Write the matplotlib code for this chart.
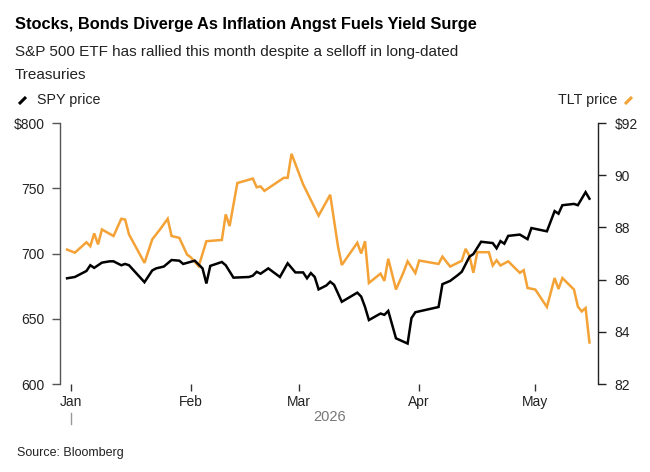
import pandas as pd
import matplotlib.pyplot as plt
import matplotlib.dates as mdates
from matplotlib.lines import Line2D

plt.rcParams['font.family'] = ['Liberation Sans', 'DejaVu Sans']

# SPY price (left axis)
spy_dates = [
    "2025-12-31", "2026-01-02", "2026-01-05", "2026-01-06", "2026-01-07", "2026-01-09",
    "2026-01-11", "2026-01-12", "2026-01-14", "2026-01-15", "2026-01-16", "2026-01-20",
    "2026-01-22", "2026-01-23", "2026-01-25", "2026-01-27", "2026-01-29", "2026-01-30",
    "2026-02-02", "2026-02-04", "2026-02-05", "2026-02-06", "2026-02-09", "2026-02-10",
    "2026-02-12", "2026-02-16", "2026-02-17", "2026-02-18", "2026-02-19", "2026-02-21",
    "2026-02-24", "2026-02-26", "2026-02-28", "2026-03-02", "2026-03-03", "2026-03-04",
    "2026-03-05", "2026-03-06", "2026-03-08", "2026-03-09", "2026-03-10", "2026-03-12",
    "2026-03-16", "2026-03-17", "2026-03-18", "2026-03-19", "2026-03-22", "2026-03-23",
    "2026-03-24", "2026-03-26", "2026-03-29", "2026-03-30", "2026-03-31", "2026-04-06",
    "2026-04-07", "2026-04-09", "2026-04-11", "2026-04-12", "2026-04-14", "2026-04-15",
    "2026-04-17", "2026-04-20", "2026-04-21", "2026-04-22", "2026-04-23", "2026-04-24",
    "2026-04-27", "2026-04-29", "2026-04-30", "2026-05-04", "2026-05-06", "2026-05-07",
    "2026-05-08", "2026-05-11", "2026-05-12", "2026-05-14", "2026-05-15",
]
spy_price = [
    681, 682, 686.6, 691, 689, 693,
    694, 694, 691, 692, 691, 678,
    687, 688.6, 690, 695, 694.5, 692,
    694.5, 688.6, 677, 690.5, 693.5, 691,
    681.5, 682, 683, 686, 684.5, 688.6,
    682, 692.5, 685.5, 685.5, 681, 685,
    682, 672.5, 675.5, 678.4, 676, 663,
    670, 667, 659, 649, 654, 653,
    656, 635, 631, 650.5, 655, 659,
    676.5, 679, 683.5, 686, 697.6, 699.6,
    709, 708, 704, 709.5, 707.5, 713.5,
    714.5, 711, 719.5, 717, 732.5, 730.5,
    737, 738, 737, 747, 742,
]

# TLT price (right axis)
tlt_dates = [
    "2025-12-31", "2026-01-02", "2026-01-05", "2026-01-06", "2026-01-07", "2026-01-08",
    "2026-01-09", "2026-01-12", "2026-01-14", "2026-01-15", "2026-01-16", "2026-01-20",
    "2026-01-22", "2026-01-24", "2026-01-26", "2026-01-27", "2026-01-29", "2026-01-31",
    "2026-02-01", "2026-02-03", "2026-02-05", "2026-02-09", "2026-02-10", "2026-02-11",
    "2026-02-13", "2026-02-17", "2026-02-18", "2026-02-19", "2026-02-20", "2026-02-25",
    "2026-02-26", "2026-02-27", "2026-03-02", "2026-03-06", "2026-03-09", "2026-03-11",
    "2026-03-12", "2026-03-16", "2026-03-17", "2026-03-18", "2026-03-19", "2026-03-22",
    "2026-03-23", "2026-03-24", "2026-03-26", "2026-03-28", "2026-03-29", "2026-03-31",
    "2026-04-01", "2026-04-06", "2026-04-07", "2026-04-09", "2026-04-12", "2026-04-13",
    "2026-04-14", "2026-04-15", "2026-04-16", "2026-04-19", "2026-04-20", "2026-04-21",
    "2026-04-22", "2026-04-24", "2026-04-27", "2026-04-28", "2026-04-29", "2026-05-01",
    "2026-05-04", "2026-05-06", "2026-05-07", "2026-05-08", "2026-05-11", "2026-05-12",
    "2026-05-13", "2026-05-14", "2026-05-15",
]
tlt_price = [
    87.15, 87.03, 87.43, 87.28, 87.77, 87.35,
    87.92, 87.67, 88.33, 88.3, 87.73, 86.64,
    87.54, 87.92, 88.33, 87.67, 87.6, 86.96,
    86.85, 86.51, 87.47, 87.52, 88.5, 88.05,
    89.7, 89.87, 89.54, 89.57, 89.4, 89.9,
    89.9, 90.82, 89.65, 88.45, 89.25, 87.28,
    86.56, 87.41, 87.0, 87.47, 85.87, 86.23,
    85.95, 86.8, 85.62, 86.3, 86.7, 86.25,
    86.73, 86.6, 86.88, 86.5, 86.72, 87.18,
    86.9, 86.26, 87.05, 87.05, 86.54, 86.74,
    86.54, 86.7, 86.26, 86.36, 85.68, 85.62,
    84.95, 86.06, 85.64, 86.06, 85.62, 84.97,
    84.78, 84.91, 83.59,
]

spy_ticks = [600, 650, 700, 750, 800]
spy_labels = ["600", "650", "700", "750", "$800"]
tlt_ticks = [82, 84, 86, 88, 90, 92]
tlt_labels = ["82", "84", "86", "88", "90", "$92"]
month_ticks = ["2026-01-01", "2026-02-01", "2026-03-01", "2026-04-01", "2026-05-01"]
month_labels = ["Jan", "Feb", "Mar", "Apr", "May"]

ORANGE = "#F4A236"
W, H = 650, 472


def fx(x):
    return x / W


def fy(y):
    return 1 - y / H


fig = plt.figure(figsize=(6.5, 4.72), dpi=100)
ax = fig.add_axes([fx(60), fy(384), fx(598) - fx(60), fy(123) - fy(384)])
ax2 = ax.twinx()

ax2.plot(pd.to_datetime(tlt_dates), tlt_price, color=ORANGE, lw=1.8, solid_joinstyle="miter")
ax.plot(pd.to_datetime(spy_dates), spy_price, color="black", lw=1.8, solid_joinstyle="miter")
ax.set_zorder(ax2.get_zorder() + 1)
ax.patch.set_visible(False)

ax.set_xlim(pd.Timestamp("2025-12-29 04:00"), pd.Timestamp("2026-05-17 05:00"))
ax.set_ylim(600, 800)
ax2.set_ylim(82, 92)

for a in (ax, ax2):
    for s in ("top", "bottom", "left", "right"):
        a.spines[s].set_visible(False)

ax.spines["left"].set_visible(True)
ax.spines["left"].set_color("#555555")
ax.spines["left"].set_linewidth(1.0)
ax2.spines["right"].set_visible(True)
ax2.spines["right"].set_color("#222222")
ax2.spines["right"].set_linewidth(1.0)

ax.set_yticks(spy_ticks)
ax.set_yticklabels(spy_labels)
ax2.set_yticks(tlt_ticks)
ax2.set_yticklabels(tlt_labels)
ax.tick_params(axis="y", length=6, width=1, color="#555555", pad=5, labelsize=10, labelcolor="#222222")
ax2.tick_params(axis="y", length=6, width=1, color="#222222", pad=6, labelsize=10, labelcolor="#222222")

ax.set_xticks(pd.to_datetime(month_ticks))
ax.set_xticklabels(month_labels)
ax.tick_params(axis="x", length=5, width=1, color="#333333", pad=3, labelsize=10, labelcolor="#222222")

# year separator and label
jan_x = ax.transData.transform((mdates.date2num(pd.Timestamp("2026-01-01")), 0))[0]
fig.add_artist(Line2D([jan_x / W, jan_x / W], [fy(413), fy(424)], transform=fig.transFigure,
                      color="#999999", lw=1))
fig.text(fx(330), fy(417), "2026", ha="center", va="center", fontsize=10.5, color="#777777")

# titles
fig.text(fx(15), fy(24), "Stocks, Bonds Diverge As Inflation Angst Fuels Yield Surge",
         fontsize=11.8, fontweight="bold", ha="left", va="center", color="black")
fig.text(fx(15), fy(52), "S&P 500 ETF has rallied this month despite a selloff in long-dated",
         fontsize=11, ha="left", va="center", color="#222222")
fig.text(fx(15), fy(75), "Treasuries", fontsize=11, ha="left", va="center", color="#222222")

# legend
fig.add_artist(Line2D([fx(19), fx(26)], [fy(104), fy(97)], transform=fig.transFigure,
                      color="black", lw=2.2, solid_capstyle="butt"))
fig.text(fx(37), fy(100), "SPY price", fontsize=10.3, ha="left", va="center", color="#222222")
fig.add_artist(Line2D([fx(625), fx(632)], [fy(104), fy(97)], transform=fig.transFigure,
                      color=ORANGE, lw=2.2, solid_capstyle="butt"))
fig.text(fx(617), fy(100), "TLT price", fontsize=10.3, ha="right", va="center", color="#222222")

fig.text(fx(17), fy(453), "Source: Bloomberg", fontsize=9, ha="left", va="center", color="#222222")

fig.savefig("out.png", dpi=100)
